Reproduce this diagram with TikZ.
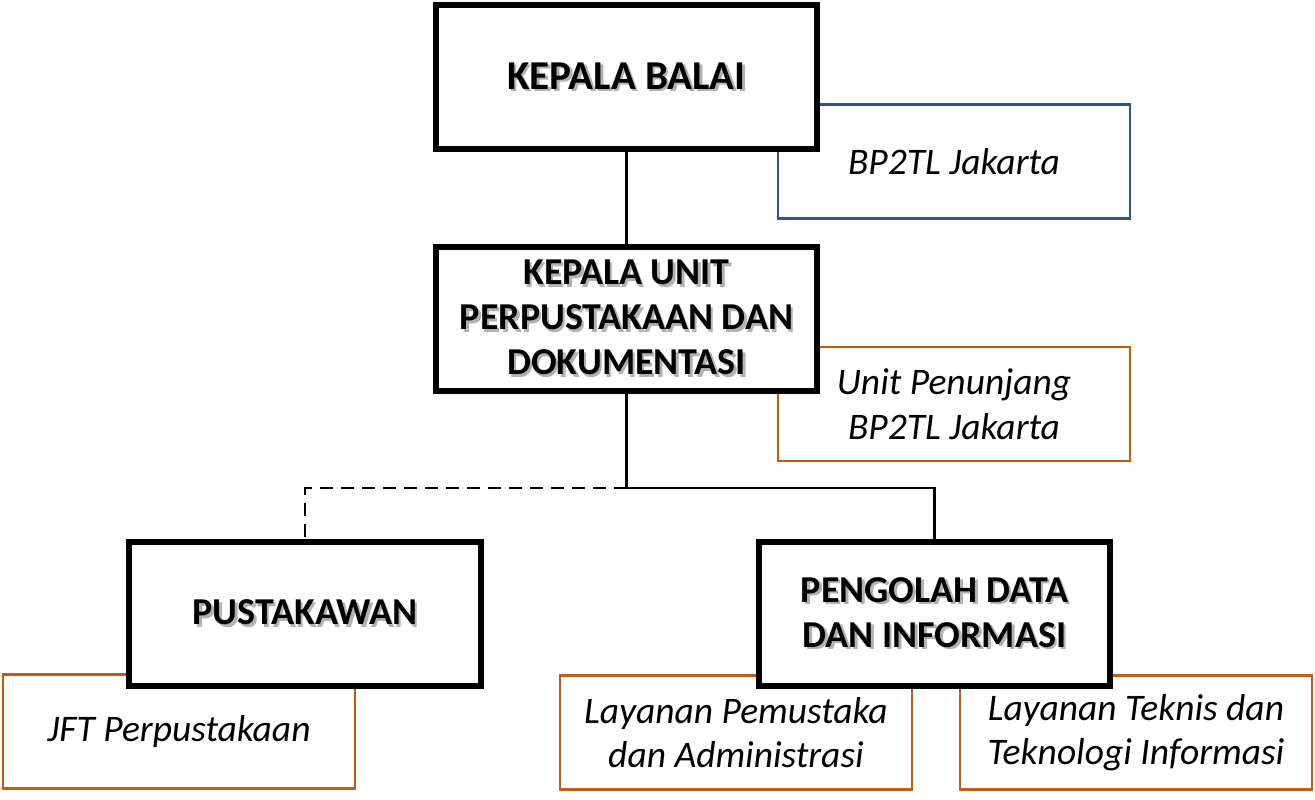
\documentclass[tikz,border=0pt]{standalone}
\usepackage{fontspec}
\setmainfont{Carlito}
\usetikzlibrary{positioning}
\newcommand{\shd}[1]{\leavevmode\rlap{\kern2.5pt\raisebox{-2.5pt}{\textcolor{black!30}{#1}}}#1}
\definecolor{unitblue}{HTML}{2F5597}
\definecolor{unitorange}{HTML}{C55A11}
\begin{document}
\begin{tikzpicture}[x=1pt, y=-1pt,
  main node/.style={rectangle, draw, line width=6pt, fill=white, minimum width=381pt, minimum height=144pt, align=center, font=\fontsize{38}{45}\selectfont\bfseries},
  sub node/.style={rectangle, draw=unitorange, line width=2.5pt, fill=white, minimum width=352pt, minimum height=114pt, align=center, font=\fontsize{37.5}{44.5}\selectfont\itshape}]
  \useasboundingbox (0,0) rectangle (1315,800);

  % keterangan unit (di belakang kotak utama)
  \node[sub node, draw=unitblue] (1a) at (954,161.5) {BP2TL Jakarta};
  \node[sub node] (2a) at (954,404) {Unit Penunjang\\BP2TL Jakarta};
  \node[sub node] (3a) at (179,731.5) {JFT Perpustakaan};
  \node[sub node] (4a) at (736,732.5) {Layanan Pemustaka\\dan Administrasi};
  \node[sub node] (4b) at (1136,732.5) {Layanan Teknis dan\\Teknologi Informasi};

  % jabatan
  \node[main node, font=\fontsize{41}{45}\selectfont\bfseries] (1) at (626.5,77) {\shd{KEPALA BALAI}};
  \node[main node] (2) at (626.5,319) {\shd{KEPALA UNIT}\\\shd{PERPUSTAKAAN DAN}\\\shd{DOKUMENTASI}};
  \node[main node, minimum width=352pt] (3) at (305,613.5) {\shd{PUSTAKAWAN}};
  \node[main node, minimum width=351pt] (4) at (934.5,613.5) {\shd{PENGOLAH DATA}\\\shd{DAN INFORMASI}};

  \coordinate (c) at (626.5,488);

  \path[line width=2.5pt]
    (1) edge (2)
    (2.south) edge (c);
  \draw[line width=2.5pt] (c) -| (4.north);
  \draw[line width=2.5pt, dash pattern=on 13pt off 8pt] (c) -| (3.north);
\end{tikzpicture}
\end{document}
